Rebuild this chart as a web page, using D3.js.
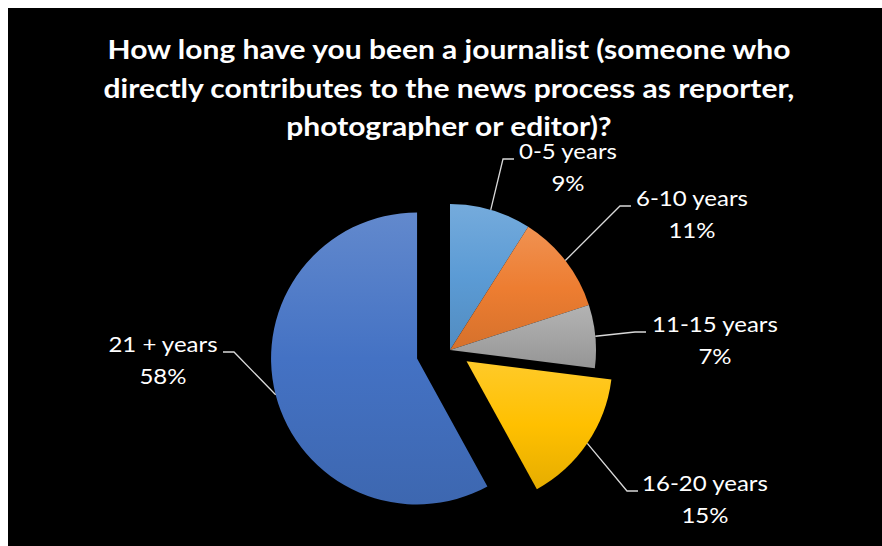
<!DOCTYPE html>
<html>
<head>
<meta charset="utf-8">
<script src="https://cdn.jsdelivr.net/npm/d3@7"></script>
<style>
  html, body { margin: 0; padding: 0; background: #ffffff; }
  svg { display: block; }
</style>
</head>
<body>
<svg id="chart" width="882" height="546"></svg>
<script>
// Survey answers: years worked as a journalist
const categories = ["0-5 years", "6-10 years", "11-15 years", "16-20 years", "21 + years"];
const shares = [9, 11, 7, 15, 58];
const baseColors = ["#5b9bd5", "#ed7d31", "#a5a5a5", "#ffc000", "#4472c4"];
const titleLines = [
  "How long have you been a journalist (someone who",
  "directly contributes to the news process as reporter,",
  "photographer or editor)?"
];

// Layout
const W = 882, H = 546;
const cx = 450, cy = 350, R = 146;
const explode = [0, 0, 0, 20, 34];          // pull-out distance of each slice
const labelLayout = [                       // elbow of leader line + text centre
  { ex: 503, ey: 159, tx: 568, side: 1 },
  { ex: 620, ey: 206, tx: 692, side: 1 },
  { ex: 635, ey: 332, tx: 715, side: 1 },
  { ex: 627, ey: 491, tx: 705, side: 1 },
  { ex: 234, ey: 352, tx: 163, side: -1 }
];

const svg = d3.select("#chart");

// Frame: black plot area inside a thin white margin
svg.append("rect").attr("x", 0).attr("y", 0).attr("width", W).attr("height", H).attr("fill", "#ffffff");
svg.append("rect").attr("x", 8).attr("y", 8).attr("width", W - 8).attr("height", H - 8).attr("fill", "#000000");

// Vertical gradients per slice: lighter tint on top, base in the middle, shade at the bottom
const defs = svg.append("defs");
baseColors.forEach((c, i) => {
  const g = defs.append("linearGradient").attr("id", "grad" + i)
    .attr("x1", 0).attr("y1", 0).attr("x2", 0).attr("y2", 1);
  g.append("stop").attr("offset", "0%").attr("stop-color", d3.interpolateRgb(c, "#ffffff")(0.16));
  g.append("stop").attr("offset", "50%").attr("stop-color", c);
  g.append("stop").attr("offset", "100%").attr("stop-color", d3.interpolateRgb(c, "#000000")(0.1));
});

const pie = d3.pie().sort(null).value(d => d).startAngle(0).endAngle(2 * Math.PI);
const arcs = pie(shares);
const arc = d3.arc().innerRadius(0).outerRadius(R);

function offset(a, i) {
  const mid = (a.startAngle + a.endAngle) / 2;
  return [explode[i] * Math.sin(mid), -explode[i] * Math.cos(mid)];
}

const slices = svg.append("g").selectAll("g.slice").data(arcs).join("g")
  .attr("class", "slice")
  .attr("transform", (a, i) => {
    const [dx, dy] = offset(a, i);
    return `translate(${cx + dx},${cy + dy})`;
  });

slices.append("path")
  .attr("d", arc)
  .attr("fill", (a, i) => `url(#grad${i})`);

// Leader lines from the slice edge to each label
const leaders = svg.append("g");
arcs.forEach((a, i) => {
  const [dx, dy] = offset(a, i);
  const mid = (a.startAngle + a.endAngle) / 2;
  const sx = cx + dx + R * Math.sin(mid);
  const sy = cy + dy - R * Math.cos(mid);
  const L = labelLayout[i];
  const path = d3.path();
  path.moveTo(sx, sy);
  path.lineTo(L.ex, L.ey);
  path.lineTo(L.ex + L.side * 11, L.ey);
  leaders.append("path").attr("d", path.toString())
    .attr("fill", "none").attr("stroke", "#d9d9d9").attr("stroke-width", 1.3);
});

// Stretch text horizontally so the glyph widths follow the chart's typeface
function fitWidth(sel, factor) {
  sel.each(function () {
    const w = this.getComputedTextLength();
    d3.select(this).attr("textLength", w * factor).attr("lengthAdjust", "spacingAndGlyphs");
  });
}

// Data labels: category name and percentage
const labelFont = "Lato, 'Open Sans', sans-serif";
const labels = svg.append("g")
  .attr("font-family", labelFont).attr("font-size", 21.5).attr("fill", "#ffffff")
  .attr("text-anchor", "middle");
const nameTexts = labels.selectAll("text.name").data(categories).join("text")
  .attr("class", "name")
  .attr("x", (d, i) => labelLayout[i].tx)
  .attr("y", (d, i) => labelLayout[i].ey)
  .text(d => d);
const pctTexts = labels.selectAll("text.pct").data(shares).join("text")
  .attr("class", "pct")
  .attr("x", (d, i) => labelLayout[i].tx)
  .attr("y", (d, i) => labelLayout[i].ey + 32)
  .text(d => d + "%");
const refName = nameTexts.filter((d, i) => i === 0).node().getComputedTextLength();
const labelFactor = 98 / refName;
fitWidth(nameTexts, labelFactor);
fitWidth(pctTexts, labelFactor);

// Title
const title = svg.append("g")
  .attr("font-family", labelFont).attr("font-weight", "bold").attr("font-size", 27)
  .attr("fill", "#ffffff").attr("text-anchor", "middle");
const titleTexts = title.selectAll("text").data(titleLines).join("text")
  .attr("x", 449)
  .attr("y", (d, i) => 59 + i * 38.5)
  .text(d => d);
const refTitle = titleTexts.filter((d, i) => i === 0).node().getComputedTextLength();
fitWidth(titleTexts, 683 / refTitle);
</script>
</body>
</html>
